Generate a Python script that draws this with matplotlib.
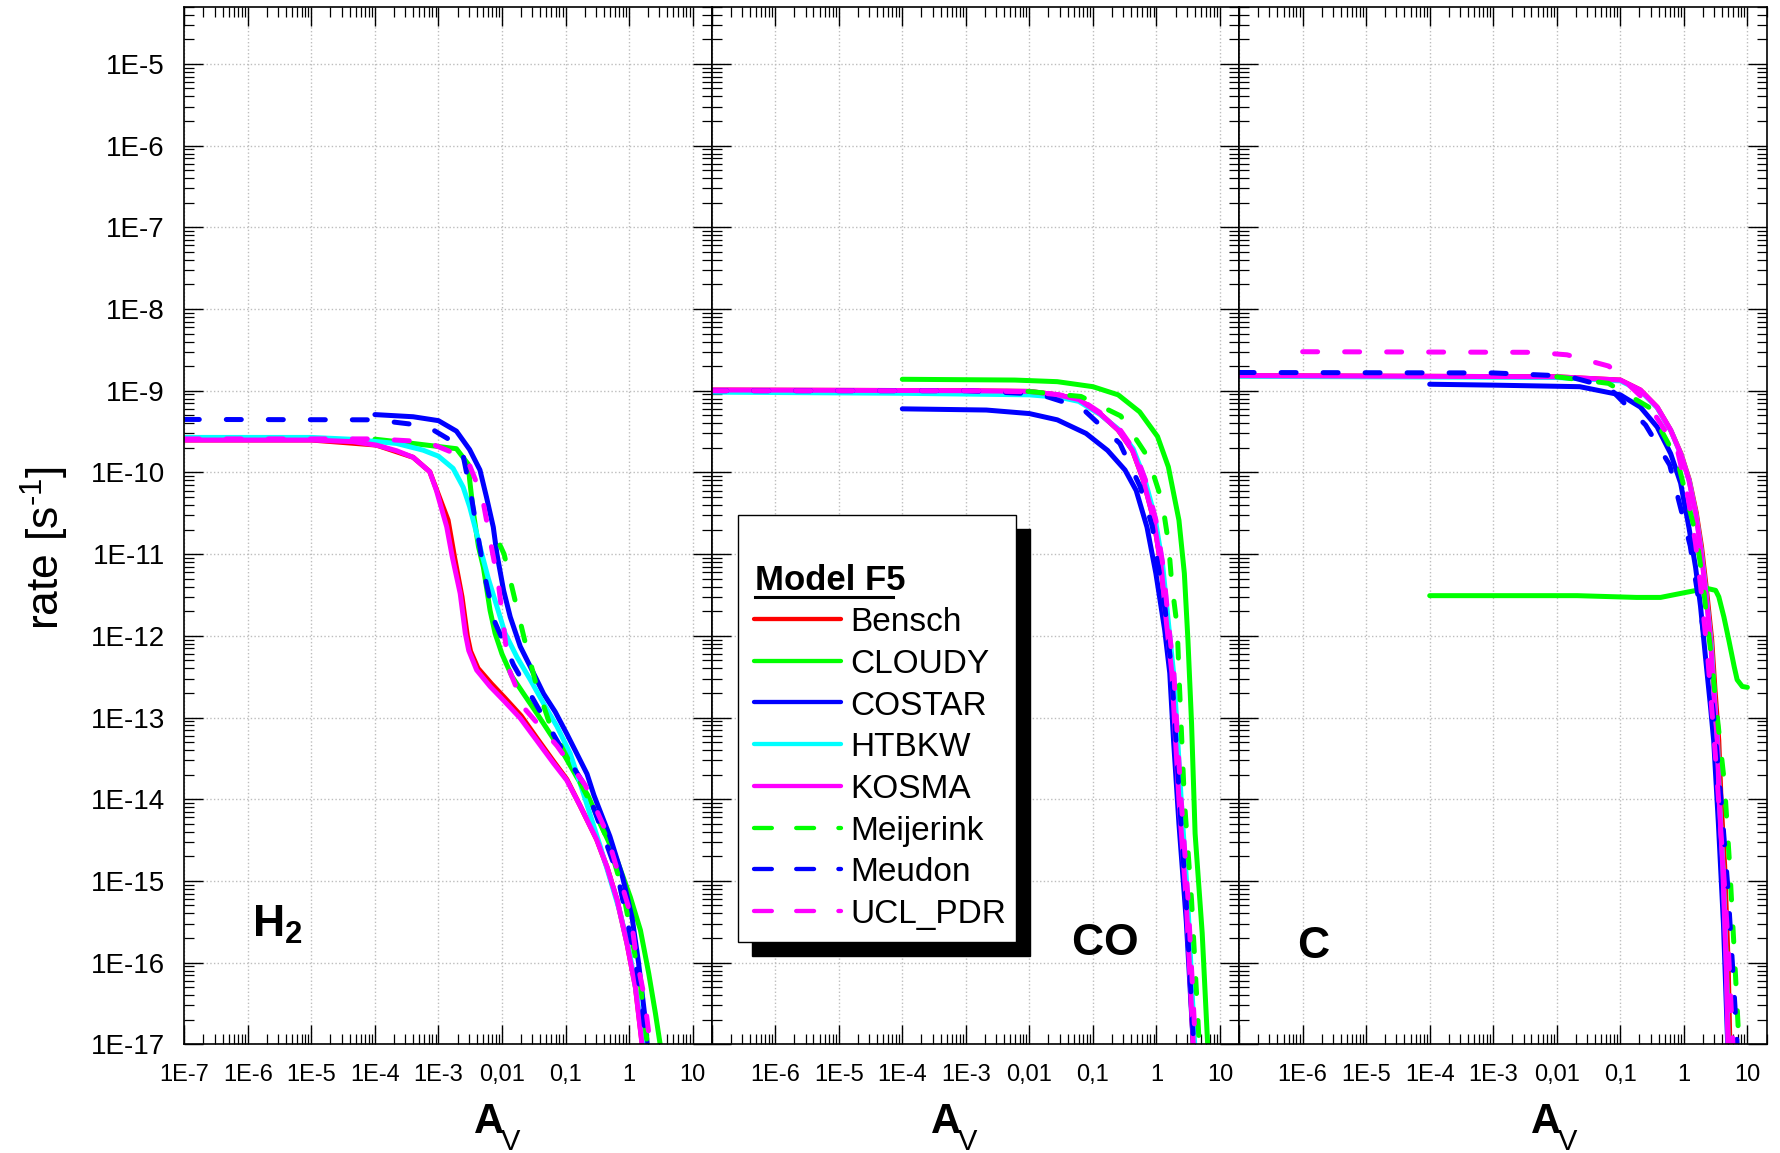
import numpy as np
import matplotlib
matplotlib.use("Agg")
import matplotlib.pyplot as plt
import matplotlib.ticker as ticker
from matplotlib.lines import Line2D
from matplotlib.patches import Rectangle

plt.rcParams['font.family'] = ['Liberation Sans', 'DejaVu Sans']
plt.rcParams['mathtext.fontset'] = 'custom'
plt.rcParams['mathtext.rm'] = 'Liberation Sans'
plt.rcParams['mathtext.bf'] = 'Liberation Sans:bold'
plt.rcParams['mathtext.it'] = 'Liberation Sans:italic'

models = ['Bensch', 'CLOUDY', 'COSTAR', 'HTBKW', 'KOSMA', 'Meijerink', 'Meudon', 'UCL_PDR']
colors = ['#ff0000', '#00ff00', '#0000ff', '#00ffff', '#ff00ff', '#00ff00', '#0000ff', '#ff00ff']
dashed = [False, False, False, False, False, True, True, True]

# ---- H2 photodissociation rate vs A_V : (A_V, rate) ----
h2_bensch = [(1e-7, 2.49e-10), (1e-5, 2.49e-10), (1.05e-4, 2.16e-10), (4.0e-4, 1.53e-10), (7.3e-4, 1.02e-10),
             (1.42e-3, 2.6e-11), (1.8e-3, 9.0e-12), (2.35e-3, 3.0e-12), (2.85e-3, 1.0e-12), (3.2e-3, 6.5e-13),
             (4.2e-3, 4.0e-13), (6.8e-3, 2.6e-13), (0.011, 1.75e-13), (0.02, 1.05e-13), (0.036, 5.5e-14),
             (0.065, 2.9e-14), (0.105, 1.75e-14), (0.17, 8.3e-15), (0.31, 3.2e-15), (0.45, 1.48e-15),
             (0.65, 5.8e-16), (0.93, 1.7e-16), (1.26, 5.0e-17), (1.7, 7e-18)]
h2_cloudy = [(1e-4, 2.55e-10), (4e-4, 2.26e-10), (1.92e-3, 1.95e-10), (2.95e-3, 1.26e-10), (3.1e-3, 8.1e-11),
             (3.55e-3, 3.2e-11), (4.27e-3, 1.23e-11), (5.1e-3, 6.9e-12), (6.5e-3, 2.04e-12), (7.8e-3, 1.07e-12),
             (0.01, 6.0e-13), (0.0143, 3.2e-13), (0.0219, 1.95e-13), (0.0355, 1.12e-13), (0.0575, 6.3e-14),
             (0.093, 3.6e-14), (0.151, 1.86e-14), (0.224, 1.12e-14), (0.355, 5.0e-15), (0.65, 1.78e-15),
             (1.05, 6.3e-16), (1.51, 2.5e-16), (2.04, 7.4e-17), (2.6, 2.4e-17), (3.1, 9.8e-18), (3.3, 6e-18)]
h2_costar = [(1e-4, 5.1e-10), (4e-4, 4.8e-10), (1e-3, 4.3e-10), (1.92e-3, 3.2e-10), (3.1e-3, 1.9e-10),
             (4.5e-3, 1.07e-10), (5.7e-3, 5.0e-11), (7.3e-3, 2.14e-11), (8.3e-3, 1.02e-11), (0.0106, 3.6e-12),
             (0.0135, 1.7e-12), (0.0194, 7.4e-13), (0.0279, 4.2e-13), (0.0452, 1.95e-13), (0.069, 1.17e-13),
             (0.105, 6.3e-14), (0.151, 3.6e-14), (0.218, 2.04e-14), (0.28, 1.12e-14), (0.5, 3.5e-15),
             (0.79, 1.12e-15), (1.12, 3.5e-16), (1.41, 1e-16), (1.74, 2.5e-17), (1.95, 9e-18)]
h2_htbkw = [(1e-7, 2.68e-10), (1e-5, 2.68e-10), (4.5e-5, 2.54e-10), (2.2e-4, 2.26e-10), (5.75e-4, 1.87e-10),
            (1e-3, 1.58e-10), (1.7e-3, 1.12e-10), (2.45e-3, 6.6e-11), (3.1e-3, 3.8e-11), (4.0e-3, 1.78e-11),
            (4.8e-3, 1.02e-11), (6.1e-3, 5.0e-12), (8.3e-3, 2.3e-12), (0.0112, 1.07e-12), (0.0172, 5.5e-13),
            (0.0279, 2.9e-13), (0.0452, 1.48e-13), (0.0733, 7.8e-14), (0.119, 3.6e-14), (0.178, 1.4e-14),
            (0.355, 2.6e-15), (0.51, 1.02e-15), (0.73, 4.0e-16), (1.05, 1.17e-16), (1.34, 3.8e-17),
            (1.66, 9.8e-18), (1.75, 6e-18)]
h2_kosma = [(1e-7, 2.49e-10), (1e-5, 2.49e-10), (4.5e-5, 2.38e-10), (1.05e-4, 2.16e-10), (2.2e-4, 1.84e-10),
            (4.0e-4, 1.53e-10), (7.3e-4, 1.02e-10), (9.3e-4, 6.0e-11), (1.35e-3, 2.16e-11), (1.65e-3, 9.3e-12),
            (2.2e-3, 3.3e-12), (2.65e-3, 1.07e-12), (3.0e-3, 6.6e-13), (4.0e-3, 3.8e-13), (6.5e-3, 2.4e-13),
            (0.0106, 1.62e-13), (0.0194, 9.8e-14), (0.0355, 5.2e-14), (0.065, 2.75e-14), (0.105, 1.7e-14),
            (0.17, 8.3e-15), (0.31, 3.2e-15), (0.45, 1.48e-15), (0.65, 5.8e-16), (0.93, 1.7e-16),
            (1.26, 5.0e-17), (1.6, 1.0e-17), (1.7, 7e-18)]
h2_meijerink = [(9.3e-3, 1.29e-11), (0.0108, 1.0e-11), (0.0156, 3.0e-12), (0.0224, 9.3e-13), (0.0334, 2.8e-13),
                (0.056, 8.5e-14), (0.126, 2.5e-14), (0.25, 8.9e-15), (0.46, 3.2e-15), (0.805, 7.4e-16),
                (1.16, 1.62e-16), (1.51, 5.5e-17), (1.81, 1.62e-17), (2.0, 8e-18)]
h2_meudon = [(1e-7, 4.45e-10), (1e-4, 4.4e-10), (6.5e-4, 3.7e-10), (2.3e-3, 2.06e-10), (3.3e-3, 5.0e-11),
             (4.3e-3, 1.48e-11), (5.4e-3, 5.2e-12), (7.8e-3, 1.45e-12), (0.0152, 4.4e-13), (0.0363, 1.35e-13),
             (0.088, 4.1e-14), (0.213, 1.38e-14), (0.65, 1.23e-15), (0.91, 3.6e-16), (1.26, 1.07e-16),
             (1.6, 3.2e-17), (1.87, 9.8e-18), (1.95, 7e-18)]
h2_ucl = [(1e-7, 2.57e-10), (1e-4, 2.57e-10), (6.5e-4, 2.37e-10), (2.8e-3, 1.48e-10), (4.9e-3, 5.0e-11),
          (6.6e-3, 1.41e-11), (8.8e-3, 4.3e-12), (0.0106, 1.32e-12), (0.0127, 4.0e-13), (0.0232, 1.26e-13),
          (0.0735, 4.5e-14), (0.205, 1.48e-14), (0.425, 4.2e-15), (1.05, 4.0e-16), (1.3, 1.17e-16),
          (1.74, 3.8e-17), (2.11, 1.12e-17), (2.2, 8e-18)]

# ---- CO ----
co_kosma = [(1e-7, 1.02e-9), (1e-3, 1.0e-9), (0.01, 9.8e-10), (0.0275, 8.9e-10), (0.06, 7.8e-10),
            (0.131, 5.2e-10), (0.25, 3.3e-10), (0.42, 1.86e-10), (0.62, 8.1e-11), (0.91, 2.6e-11),
            (1.19, 6.9e-12), (1.44, 1.41e-12), (1.75, 3.5e-13), (2.0, 5.2e-14), (2.26, 9.8e-15),
            (2.94, 5.8e-16), (3.8, 1e-17), (3.9, 7e-18)]
co_bensch = [(1e-7, 1.02e-9), (1e-3, 1.0e-9), (0.01, 9.8e-10), (0.0275, 8.9e-10), (0.06, 7.8e-10),
             (0.131, 5.2e-10), (0.25, 3.3e-10), (0.42, 1.86e-10), (0.62, 8.1e-11), (0.91, 2.6e-11),
             (1.19, 6.9e-12), (1.44, 1.41e-12), (1.75, 3.5e-13), (2.0, 5.2e-14), (2.26, 9.8e-15),
             (2.94, 5.8e-16), (3.8, 1e-17), (3.9, 7e-18)]
co_htbkw = [(1e-7, 9.6e-10), (1e-4, 9.3e-10), (0.01, 8.9e-10), (0.03, 8.3e-10), (0.06, 7.4e-10),
            (0.13, 5.1e-10), (0.25, 3.4e-10), (0.43, 1.95e-10), (0.65, 8.5e-11), (0.95, 2.8e-11),
            (1.25, 7.5e-12), (1.55, 1.4e-12), (1.9, 3e-13), (2.45, 1e-14), (3.1, 6e-16), (4.0, 1e-17),
            (4.1, 7e-18)]
co_costar = [(1e-4, 6.0e-10), (2.1e-3, 5.8e-10), (0.01, 5.25e-10), (0.0275, 4.4e-10), (0.078, 3.0e-10),
             (0.17, 1.86e-10), (0.32, 1.07e-10), (0.48, 6.0e-11), (0.71, 2.14e-11), (0.98, 5.8e-12),
             (1.35, 1.17e-12), (1.62, 3.5e-13), (1.86, 5.2e-14), (2.26, 5e-15), (2.95, 3.2e-16),
             (3.8, 1e-17), (3.9, 7e-18)]
co_cloudy = [(1e-4, 1.38e-9), (5.9e-3, 1.35e-9), (0.0275, 1.29e-9), (0.1, 1.12e-9), (0.25, 8.9e-10),
             (0.545, 5.5e-10), (1.04, 2.75e-10), (1.54, 1.17e-10), (2.26, 2.6e-11), (2.75, 5.8e-12),
             (3.13, 8.9e-13), (3.57, 8.5e-14), (4.06, 3.8e-15), (5.25, 2.3e-16), (6.4, 1e-17), (6.6, 6e-18)]
co_meijerink = [(9.5e-3, 9.8e-10), (0.065, 8.5e-10), (0.275, 4.9e-10), (0.73, 1.55e-10), (1.23, 4.4e-11),
                (1.55, 1.35e-11), (1.74, 4.4e-12), (2.12, 1.29e-12), (2.3, 2.5e-13), (2.75, 9.8e-15),
                (3.57, 5.8e-16), (4.62, 1.35e-17), (4.8, 8e-18)]
co_meudon = [(1e-7, 1.0e-9), (1e-3, 1.0e-9), (0.014, 9.1e-10), (0.066, 6.2e-10), (0.266, 2.26e-10),
             (0.55, 6.8e-11), (0.86, 2.2e-11), (1.07, 7.1e-12), (1.38, 2.0e-12), (1.66, 5.0e-13),
             (1.9, 1.26e-13), (2.3, 1e-14), (2.95, 5e-16), (3.85, 1e-17), (3.95, 7e-18)]
co_ucl = [(1e-7, 1.0e-9), (1e-3, 1.0e-9), (0.01, 9.7e-10), (0.03, 8.9e-10), (0.065, 7.7e-10),
          (0.14, 5.2e-10), (0.27, 3.3e-10), (0.45, 1.86e-10), (0.67, 8.1e-11), (0.98, 2.6e-11),
          (1.28, 6.9e-12), (1.55, 1.41e-12), (1.88, 3.5e-13), (2.15, 5.2e-14), (2.45, 9.8e-15),
          (3.15, 5.8e-16), (4.1, 1e-17), (4.2, 7e-18)]

# ---- C ----
c_kosma = [(1e-7, 1.53e-9), (0.01, 1.48e-9), (0.1, 1.35e-9), (0.207, 1.02e-9), (0.38, 6.3e-10),
           (0.62, 3.3e-10), (0.89, 1.7e-10), (1.2, 8.1e-11), (1.53, 3.2e-11), (1.83, 1.23e-11),
           (2.19, 3.6e-12), (2.63, 8.9e-13), (2.95, 2.14e-13), (3.36, 5.2e-14), (3.6, 9.8e-15),
           (4.1, 1.48e-15), (4.65, 8.9e-17), (4.95, 1e-17), (5.1, 6e-18)]
c_bensch = [(1e-7, 1.53e-9), (0.01, 1.48e-9), (0.1, 1.35e-9), (0.207, 1.02e-9), (0.38, 6.3e-10),
            (0.62, 3.3e-10), (0.9, 1.7e-10), (1.22, 8.1e-11), (1.57, 3.2e-11), (1.9, 1.23e-11),
            (2.28, 3.6e-12), (2.75, 8.9e-13), (3.1, 2.14e-13), (3.55, 5.2e-14), (3.85, 9.8e-15),
            (4.4, 1.48e-15), (5.0, 8.9e-17), (5.3, 1e-17), (5.45, 6e-18)]
c_htbkw = [(1e-7, 1.5e-9), (0.01, 1.45e-9), (0.1, 1.32e-9), (0.207, 1.0e-9), (0.38, 6.2e-10),
           (0.63, 3.2e-10), (0.9, 1.65e-10), (1.22, 7.8e-11), (1.56, 3.0e-11), (1.87, 1.15e-11),
           (2.24, 3.3e-12), (2.7, 8e-13), (3.0, 2e-13), (3.4, 5e-14), (3.65, 9e-15), (4.15, 1.4e-15),
           (4.7, 8.5e-17), (5.0, 1e-17), (5.15, 6e-18)]
c_costar = [(1e-4, 1.2e-9), (1e-3, 1.17e-9), (0.023, 1.12e-9), (0.1, 8.9e-10), (0.207, 6.3e-10),
            (0.38, 3.6e-10), (0.62, 1.7e-10), (0.89, 7.4e-11), (1.2, 2.14e-11), (1.53, 6.9e-12),
            (1.83, 2.3e-12), (2.19, 5.5e-13), (2.63, 1.35e-13), (2.95, 5.2e-14), (3.5, 5e-15),
            (4.2, 3e-16), (4.9, 1e-17), (5.05, 6e-18)]
c_cloudy = [(1e-4, 3.1e-12), (0.021, 3.1e-12), (0.18, 2.95e-12), (0.43, 2.95e-12), (0.89, 3.3e-12),
            (1.44, 3.55e-12), (2.33, 3.8e-12), (3.16, 3.6e-12), (3.55, 3.0e-12), (4.27, 1.7e-12),
            (5.1, 8.9e-13), (6.2, 4.2e-13), (6.9, 2.9e-13), (8.3, 2.4e-13), (10.0, 2.34e-13)]
c_meijerink = [(0.01, 1.48e-9), (0.065, 1.23e-9), (0.28, 6.3e-10), (0.79, 1.41e-10), (1.58, 1.62e-11),
               (1.95, 5.2e-12), (2.29, 1.7e-12), (2.75, 5e-13), (3.16, 1.58e-13), (4.36, 1.55e-14),
               (5.28, 1.48e-15), (6.4, 8.9e-17), (7.25, 1.35e-17), (7.6, 6e-18)]
c_meudon = [(1e-7, 1.67e-9), (1e-3, 1.65e-9), (0.0145, 1.51e-9), (0.066, 1.1e-9), (0.25, 3.8e-10),
            (0.6, 1.23e-10), (1.26, 1.26e-11), (2.0, 1.26e-12), (2.88, 1.26e-13), (3.85, 1e-14),
            (4.95, 7.9e-16), (6.76, 1.35e-17), (7.1, 6e-18)]
c_ucl = [(1e-6, 3.0e-9), (4.6e-3, 2.95e-9), (0.0145, 2.75e-9), (0.066, 2.0e-9), (0.257, 7.4e-10),
         (0.79, 1.9e-10), (1.16, 5e-11), (1.53, 1.35e-11), (1.84, 4e-12), (2.4, 5e-13), (3.16, 3.2e-14),
         (4.0, 2.5e-15), (5.0, 1.6e-16), (6.0, 8e-18)]

panels = [
    [h2_bensch, h2_cloudy, h2_costar, h2_htbkw, h2_kosma, h2_meijerink, h2_meudon, h2_ucl],
    [co_bensch, co_cloudy, co_costar, co_htbkw, co_kosma, co_meijerink, co_meudon, co_ucl],
    [c_bensch, c_cloudy, c_costar, c_htbkw, c_kosma, c_meijerink, c_meudon, c_ucl],
]
species = [r'$\mathbf{H}_{\mathbf{2}}$', r'$\mathbf{CO}$', r'$\mathbf{C}$']

xt_vals = [1e-7, 1e-6, 1e-5, 1e-4, 1e-3, 1e-2, 1e-1, 1, 10]
xt_labels = ['1E-7', '1E-6', '1E-5', '1E-4', '1E-3', '0,01', '0,1', '1', '10']
yt_vals = [10.0 ** e for e in range(-17, -4)]
yt_labels = ['1E%d' % e for e in range(-17, -4)]

W, H = 1780, 1153
fig = plt.figure(figsize=(W / 100, H / 100), dpi=100)

def fx(x):
    return x / W

def fy(y):
    return 1 - y / H

LW = 3.6
DASH = (0, (3.0, 5.4))

left0, pw = 184.3, 527.4
top, bot = 6.8, 1044.3
axes = []
for i in range(3):
    ax = fig.add_axes([fx(left0 + i * pw), fy(bot), pw / W, (bot - top) / H])
    ax.set_xscale('log'); ax.set_yscale('log')
    ax.set_xlim(1e-7, 20); ax.set_ylim(1e-17, 5e-5)
    for pts, c, d in zip(panels[i], colors, dashed):
        av, rate = zip(*pts)
        ax.plot(av, rate, color=c, lw=LW, solid_capstyle='round', dash_capstyle='round',
                solid_joinstyle='round', linestyle=DASH if d else '-')
    ax.xaxis.set_major_locator(ticker.FixedLocator(xt_vals))
    labs = list(xt_labels)
    if i > 0:
        labs[0] = ''
    ax.xaxis.set_major_formatter(ticker.FixedFormatter(labs))
    ax.xaxis.set_minor_locator(ticker.LogLocator(base=10, subs=np.arange(2, 10), numticks=100))
    ax.xaxis.set_minor_formatter(ticker.NullFormatter())
    ax.yaxis.set_major_locator(ticker.FixedLocator(yt_vals))
    ax.yaxis.set_major_formatter(ticker.FixedFormatter(yt_labels if i == 0 else [''] * len(yt_vals)))
    ax.yaxis.set_minor_locator(ticker.LogLocator(base=10, subs=np.arange(2, 10), numticks=100))
    ax.yaxis.set_minor_formatter(ticker.NullFormatter())
    ax.tick_params(which='both', direction='in', top=True, right=True, color='black')
    ax.tick_params(which='major', length=13.5, width=1.0)
    ax.tick_params(which='minor', length=7, width=0.9)
    ax.tick_params(axis='x', which='major', labelsize=17, pad=14)
    ax.tick_params(axis='y', which='major', labelsize=20, pad=14)
    ax.grid(True, which='major', linestyle=':', color='#bdbdbd', lw=1.0)
    ax.set_axisbelow(True)
    for s in ax.spines.values():
        s.set_linewidth(1.2)
    axes.append(ax)

# axis titles
fig.text(fx(45), fy(548), r'rate [s$^{\text{-1}}$]', rotation=90, ha='center', va='center', fontsize=32)
for xa in [474, 931, 1531]:
    fig.text(fx(xa), fy(1133), 'A', ha='left', va='baseline', fontsize=30, fontweight='bold')
    fig.text(fx(xa + 27), fy(1150), 'V', ha='left', va='baseline', fontsize=21)

# species labels
for lab, (xl, yl) in zip(species, [(252, 937), (1071, 955), (1297, 958)]):
    fig.text(fx(xl), fy(yl), lab, ha='left', va='baseline', fontsize=32)

# legend with drop shadow
bx0, by0, bx1, by1 = 738.3, 515, 1015.7, 941.7
fig.add_artist(Rectangle((fx(bx0 + 14), fy(by1 + 14)), (bx1 - bx0) / W, (by1 - by0) / H,
                         transform=fig.transFigure, facecolor='black', edgecolor='black', zorder=5))
fig.add_artist(Rectangle((fx(bx0), fy(by1)), (bx1 - bx0) / W, (by1 - by0) / H,
                         transform=fig.transFigure, facecolor='white', edgecolor='black', lw=1.0, zorder=6))
fig.text(fx(755), fy(590), 'Model F5', fontsize=25, fontweight='bold', ha='left', va='baseline', zorder=7)
fig.add_artist(Line2D([fx(755), fx(893)], [fy(596.5), fy(596.5)], transform=fig.transFigure,
                      color='black', lw=2.2, zorder=7))
for k, (name, c, d) in enumerate(zip(models, colors, dashed)):
    yr = 619 + k * 41.7
    fig.add_artist(Line2D([fx(754), fx(841)], [fy(yr), fy(yr)], transform=fig.transFigure, color=c, lw=3.1,
                          linestyle=(0, (4.15, 5.65)) if d else '-', solid_capstyle='round',
                          dash_capstyle='round', zorder=7))
    fig.text(fx(850), fy(yr + 12.2), name, fontsize=24, ha='left', va='baseline', zorder=7)

fig.savefig('out.png', dpi=100)
